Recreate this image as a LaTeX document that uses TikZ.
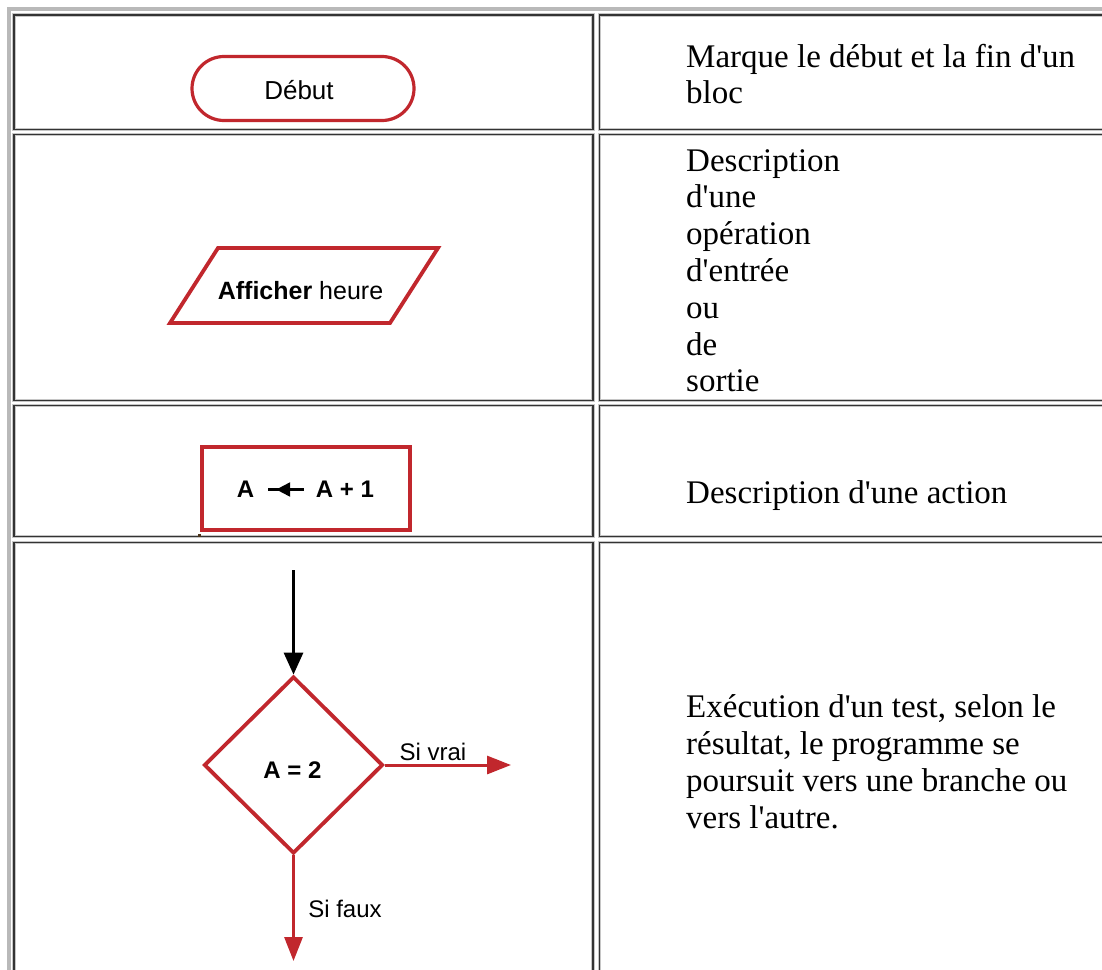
\documentclass[tikz,border=0pt]{standalone}
\usepackage{fontspec}
\setmainfont{Liberation Serif}[Ligatures=TeXOff]
\newfontfamily\labfont{Liberation Sans}
\usetikzlibrary{shapes.geometric,shapes.misc,arrows.meta,decorations.markings}
\definecolor{flowred}{RGB}{193,39,45}
\tikzset{
  cellframe/.style={draw=black!80, line width=1.4pt,
    preaction={draw=gray!45, line width=3.6pt}},
  desc/.style={anchor=base west, inner sep=0pt, font=\fontsize{33}{37}\selectfont},
  lab/.style={inner sep=0pt, font=\labfont\fontsize{24}{28}\selectfont},
  labbf/.style={inner sep=0pt, font=\labfont\bfseries\fontsize{24}{28}\selectfont},
  shapeline/.style={draw=flowred, line width=3.8pt, fill=white},
  redarrow/.style={draw=flowred, line width=3pt, -{Triangle[length=24pt,width=18pt]}},
}
\begin{document}
\begin{tikzpicture}[x=1pt,y=-1pt]
\useasboundingbox (0,0) rectangle (1102,969);
\clip (0,0) rectangle (1102,969);
\fill[white] (0,0) rectangle (1102,969);

% table frame and cells
\draw[gray!55, line width=4pt] (8.5,8.5) rectangle (1140,1000);
\foreach \top/\bot in {15/129.5, 134.5/400.5, 405.5/536.5, 542.5/1000} {
  \draw[cellframe] (14,\top) rectangle (593,\bot);
  \draw[cellframe] (599.5,\top) rectangle (1140,\bot);
}

% row 1: terminal
\node[rounded rectangle, shapeline, line width=3.2pt, minimum width=222pt,
      minimum height=64pt, inner sep=0pt,
      font=\labfont\fontsize{26}{30}\selectfont] (debut) at (303,88.5) {};
\node[inner sep=0pt, font=\labfont\fontsize{26}{30}\selectfont] (debuttext) at (299,90) {Début};

% row 2: input / output parallelogram
\coordinate (ioTL) at (218,248);
\coordinate (ioTR) at (438,248);
\coordinate (ioBR) at (390,323);
\coordinate (ioBL) at (170,323);
\draw[shapeline, line join=miter] (ioTL) -- (ioTR) -- (ioBR) -- (ioBL) -- cycle;
\node[inner sep=0pt, font=\labfont\fontsize{25}{29}\selectfont] (io) at (300.5,291)
      {\textbf{Afficher} heure};

% row 3: action
\node[rectangle, shapeline, minimum width=208pt, minimum height=83pt] (assign) at (306,488.5) {};
\draw[flowred, line width=3.5pt] ([yshift=-1.5pt]assign.north west) -- ([yshift=-1.5pt]assign.north east);
\fill[black!60!brown] (197.5,533.5) rectangle (200.5,536.5);
\node[labbf] (lhs) at (245.5,489.5) {A};
\node[labbf] (rhs) at (345,489.5) {A + 1};
\draw[line width=2.2pt,
      decoration={markings, mark=at position 0.78 with {\arrow{Triangle[length=14pt,width=14pt]}}},
      postaction={decorate}]
      ([xshift=-12pt]rhs.west) -- ([xshift=14pt]lhs.east);

% row 4: test
\node[diamond, shapeline, minimum width=179pt, minimum height=177pt, inner sep=0pt] (test) at (293.5,765) {};
\node[labbf] (cond) at (292.5,770) {A = 2};
\coordinate (in) at (293.5,570);
\coordinate (yes) at (511,765);
\coordinate (no) at (293.5,961);
\draw[line width=3pt, -{Triangle[length=22pt,width=19pt]}] (in) -- (test.north);
\draw[redarrow] (test.east) -- (yes);
\draw[redarrow] (test.south) -- (no);
\node[lab, anchor=base] (vrai) at (433,760) {Si vrai};
\node[lab, anchor=base] (faux) at (345,917) {Si faux};

% descriptions
\node[desc] (d1a) at (686,67) {Marque le début et la fin d'un};
\node[desc] (d1b) at (686,103) {bloc};
\foreach \t [count=\i from 0] in {Description, d'une, opération, d'entrée, ou, de, sortie}
  \node[desc] (d2-\i) at (686,171+36.8*\i) {\t};
\node[desc] (d3) at (686,503) {Description d'une action};
\foreach \t [count=\i from 0] in {{Exécution d'un test, selon le},
    {résultat, le programme se}, {poursuit vers une branche ou}, {vers l'autre.}}
  \node[desc] (d4-\i) at (686,717+37*\i) {\t};
\end{tikzpicture}
\end{document}
